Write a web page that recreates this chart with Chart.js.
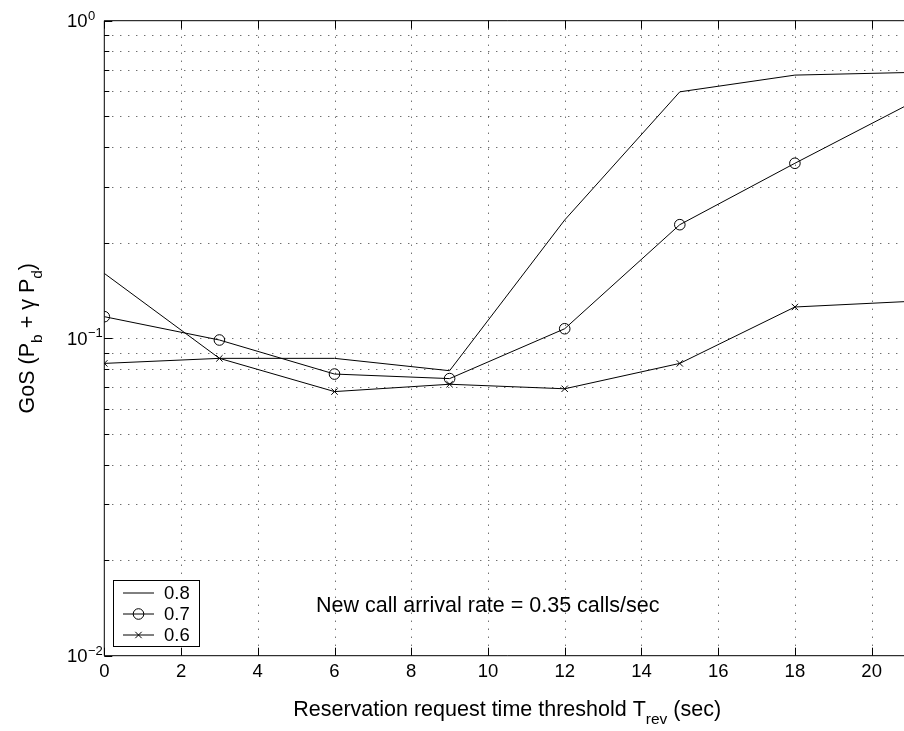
<!DOCTYPE html>
<html><head><meta charset="utf-8">
<style>
html,body{margin:0;padding:0;overflow:hidden;background:#fff;width:904px;height:731px}
#wrap{position:absolute;left:0;top:0;width:920px;height:731px}
canvas{display:block}
</style>
<script src="https://cdn.jsdelivr.net/npm/chart.js@4/dist/chart.umd.min.js"></script>
</head><body><div id="wrap"><canvas id="c" width="920" height="731"></canvas></div>
<script>
// ---- data ----
const xValues = [0, 3, 6, 9, 12, 15, 18, 21];
const seriesLabels = ['0.8', '0.7', '0.6'];
const gos08 = [0.160, 0.0864, 0.0864, 0.0790, 0.2357, 0.597, 0.674, 0.687];
const gos07 = [0.1169, 0.0987, 0.0771, 0.0746, 0.1071, 0.2278, 0.3556, 0.548];
const gos06 = [0.0833, 0.0864, 0.0679, 0.0716, 0.0693, 0.0833, 0.1254, 0.1306];
const xTickValues = [0, 2, 4, 6, 8, 10, 12, 14, 16, 18, 20];
const yDecadeValues = [0.01, 0.1, 1];
const yDecadeExponents = ['\u22122', '\u22121', '0'];
const yMinorMultipliers = [2, 3, 4, 5, 6, 7, 8, 9];
const xTitleParts = ['Reservation request time threshold T', 'rev', ' (sec)'];
const yTitleParts = ['GoS (P', 'b', ' + \u03b3 P', 'd', ')'];
const annotationText = 'New call arrival rate = 0.35 calls/sec';

const FONT = '"Liberation Sans", Arial, Helvetica, sans-serif';

function pts(arr) { return xValues.map((x, i) => ({ x: x, y: arr[i] })); }

function drawRich(ctx, parts, x, y, align) {
  // parts: [{t, s, dy}]
  let w = 0;
  for (const p of parts) { ctx.font = p.s + 'px ' + FONT; w += ctx.measureText(p.t).width; }
  let cx = align === 'center' ? x - w / 2 : (align === 'right' ? x - w : x);
  ctx.textAlign = 'left';
  ctx.textBaseline = 'alphabetic';
  for (const p of parts) {
    ctx.font = p.s + 'px ' + FONT;
    ctx.fillText(p.t, cx, y + p.dy);
    cx += ctx.measureText(p.t).width;
  }
}

const matlabPlugin = {
  id: 'matlabLook',
  beforeDatasetsDraw(chart) {
    const { ctx, chartArea: a, scales: { x, y } } = chart;
    ctx.save();
    ctx.strokeStyle = '#333';
    ctx.lineWidth = 1;
    ctx.setLineDash([1, 7]);
    for (const v of xTickValues) {
      if (v === 0) continue;
      const px = Math.round(x.getPixelForValue(v)) + 0.5;
      ctx.beginPath(); ctx.moveTo(px, a.top); ctx.lineTo(px, a.bottom); ctx.stroke();
    }
    const yGrid = [];
    for (let d = 0; d < yDecadeValues.length - 1; d++) {
      if (d > 0) yGrid.push(yDecadeValues[d]);
      for (const m of yMinorMultipliers) yGrid.push(yDecadeValues[d] * m);
    }
    for (const v of yGrid) {
      const py = Math.round(y.getPixelForValue(v)) + 0.5;
      ctx.beginPath(); ctx.moveTo(a.left, py); ctx.lineTo(a.right, py); ctx.stroke();
    }
    ctx.restore();
  },
  afterDatasetsDraw(chart) {
    const { ctx, chartArea: a, scales: { x, y } } = chart;
    ctx.save();
    ctx.setLineDash([]);
    ctx.strokeStyle = '#000';
    ctx.fillStyle = '#000';
    ctx.lineWidth = 1;
    // frame (left, bottom, top)
    ctx.beginPath();
    ctx.moveTo(a.right, a.top); ctx.lineTo(a.left, a.top); ctx.lineTo(a.left, a.bottom); ctx.lineTo(a.right, a.bottom);
    ctx.stroke();
    // x ticks (inside, top and bottom)
    for (const v of xTickValues) {
      const px = Math.round(x.getPixelForValue(v)) + 0.5;
      ctx.beginPath();
      ctx.moveTo(px, a.bottom); ctx.lineTo(px, a.bottom - 8);
      ctx.moveTo(px, a.top); ctx.lineTo(px, a.top + 8);
      ctx.stroke();
    }
    // y ticks (inside, left)
    for (let d = 0; d < yDecadeValues.length; d++) {
      const py = Math.round(y.getPixelForValue(yDecadeValues[d])) + 0.5;
      ctx.beginPath(); ctx.moveTo(a.left, py); ctx.lineTo(a.left + 8, py); ctx.stroke();
      if (d < yDecadeValues.length - 1) {
        for (const m of yMinorMultipliers) {
          const pm = Math.round(y.getPixelForValue(yDecadeValues[d] * m)) + 0.5;
          ctx.beginPath(); ctx.moveTo(a.left, pm); ctx.lineTo(a.left + 5, pm); ctx.stroke();
        }
      }
    }
    // x tick labels
    ctx.font = '18.5px ' + FONT;
    ctx.textAlign = 'center';
    ctx.textBaseline = 'alphabetic';
    for (const v of xTickValues) {
      ctx.fillText(String(v), x.getPixelForValue(v), 677);
    }
    // y tick labels 10^n
    for (let d = 0; d < yDecadeValues.length; d++) {
      const py = y.getPixelForValue(yDecadeValues[d]);
      ctx.font = '18.5px ' + FONT;
      ctx.textAlign = 'right';
      ctx.fillText('10', 87.5, py + 6.5);
      ctx.font = '13px ' + FONT;
      ctx.textAlign = 'left';
      ctx.fillText(yDecadeExponents[d], 88, py - 1);
    }
    // x title
    drawRich(ctx, [
      { t: xTitleParts[0], s: 21.5, dy: 0 },
      { t: xTitleParts[1], s: 15.5, dy: 8 },
      { t: xTitleParts[2], s: 21.5, dy: 0 }
    ], (a.left + a.right) / 2, 716, 'center');
    // y title
    ctx.save();
    ctx.translate(34, (a.top + a.bottom) / 2);
    ctx.rotate(-Math.PI / 2);
    drawRich(ctx, [
      { t: yTitleParts[0], s: 21.5, dy: 0 },
      { t: yTitleParts[1], s: 15.5, dy: 8 },
      { t: yTitleParts[2], s: 21.5, dy: 0 },
      { t: yTitleParts[3], s: 15.5, dy: 8 },
      { t: yTitleParts[4], s: 21.5, dy: 0 }
    ], 0, 0, 'center');
    ctx.restore();
    // annotation
    ctx.font = '21.5px ' + FONT;
    ctx.textAlign = 'left';
    ctx.textBaseline = 'alphabetic';
    ctx.fillText(annotationText, 316, 612);
    // legend
    const bx = 113.5, by = 580.5, bw = 86, bh = 66;
    ctx.fillStyle = '#fff';
    ctx.fillRect(bx, by, bw, bh);
    ctx.strokeStyle = '#000';
    ctx.strokeRect(bx, by, bw, bh);
    const rows = [592.5, 613.5, 634.5];
    chart.data.datasets.forEach((ds, i) => {
      const ry = rows[i];
      ctx.strokeStyle = '#000';
      ctx.lineWidth = 1;
      ctx.beginPath(); ctx.moveTo(123, ry + 0.5); ctx.lineTo(154, ry + 0.5); ctx.stroke();
      if (ds.pointRadius > 0) {
        ctx.fillStyle = 'rgba(0,0,0,0)';
        Chart.helpers.drawPoint(ctx, { pointStyle: ds.pointStyle, radius: ds.pointRadius, borderWidth: 1, rotation: 0 }, 138.5, ry + 0.5);
      }
      ctx.fillStyle = '#000';
      ctx.font = '18.5px ' + FONT;
      ctx.textAlign = 'left';
      ctx.textBaseline = 'middle';
      ctx.fillText(ds.label, 164, ry + 1);
    });
    ctx.restore();
  }
};

new Chart(document.getElementById('c'), {
  type: 'scatter',
  data: {
    datasets: [
      { label: seriesLabels[0], data: pts(gos08), showLine: true, borderColor: '#000', borderWidth: 1, pointRadius: 0, pointStyle: 'line', backgroundColor: 'rgba(0,0,0,0)' },
      { label: seriesLabels[1], data: pts(gos07), showLine: true, borderColor: '#000', borderWidth: 1, pointRadius: 5.3, pointStyle: 'circle', pointBorderColor: '#000', pointBackgroundColor: 'rgba(0,0,0,0)', pointBorderWidth: 1, backgroundColor: 'rgba(0,0,0,0)' },
      { label: seriesLabels[2], data: pts(gos06), showLine: true, borderColor: '#000', borderWidth: 1, pointRadius: 4.5, pointStyle: 'crossRot', pointBorderColor: '#000', pointBackgroundColor: 'rgba(0,0,0,0)', pointBorderWidth: 1, backgroundColor: 'rgba(0,0,0,0)' }
    ]
  },
  options: {
    responsive: false,
    animation: false,
    devicePixelRatio: 1,
    layout: { padding: { left: 0, top: 20.7, right: 10, bottom: 0 } },
    plugins: { legend: { display: false }, tooltip: { enabled: false } },
    elements: { line: { tension: 0 } },
    scales: {
      x: {
        type: 'linear', min: 0, max: 21,
        ticks: { display: false, includeBounds: false },
        grid: { display: false }, border: { display: false },
        afterFit(s) { s.height = 75.3; }
      },
      y: {
        type: 'logarithmic', min: 0.01, max: 1,
        ticks: { display: false },
        grid: { display: false }, border: { display: false },
        afterFit(s) { s.width = 104.3; }
      }
    }
  },
  plugins: [matlabPlugin]
});
</script>
</body></html>
